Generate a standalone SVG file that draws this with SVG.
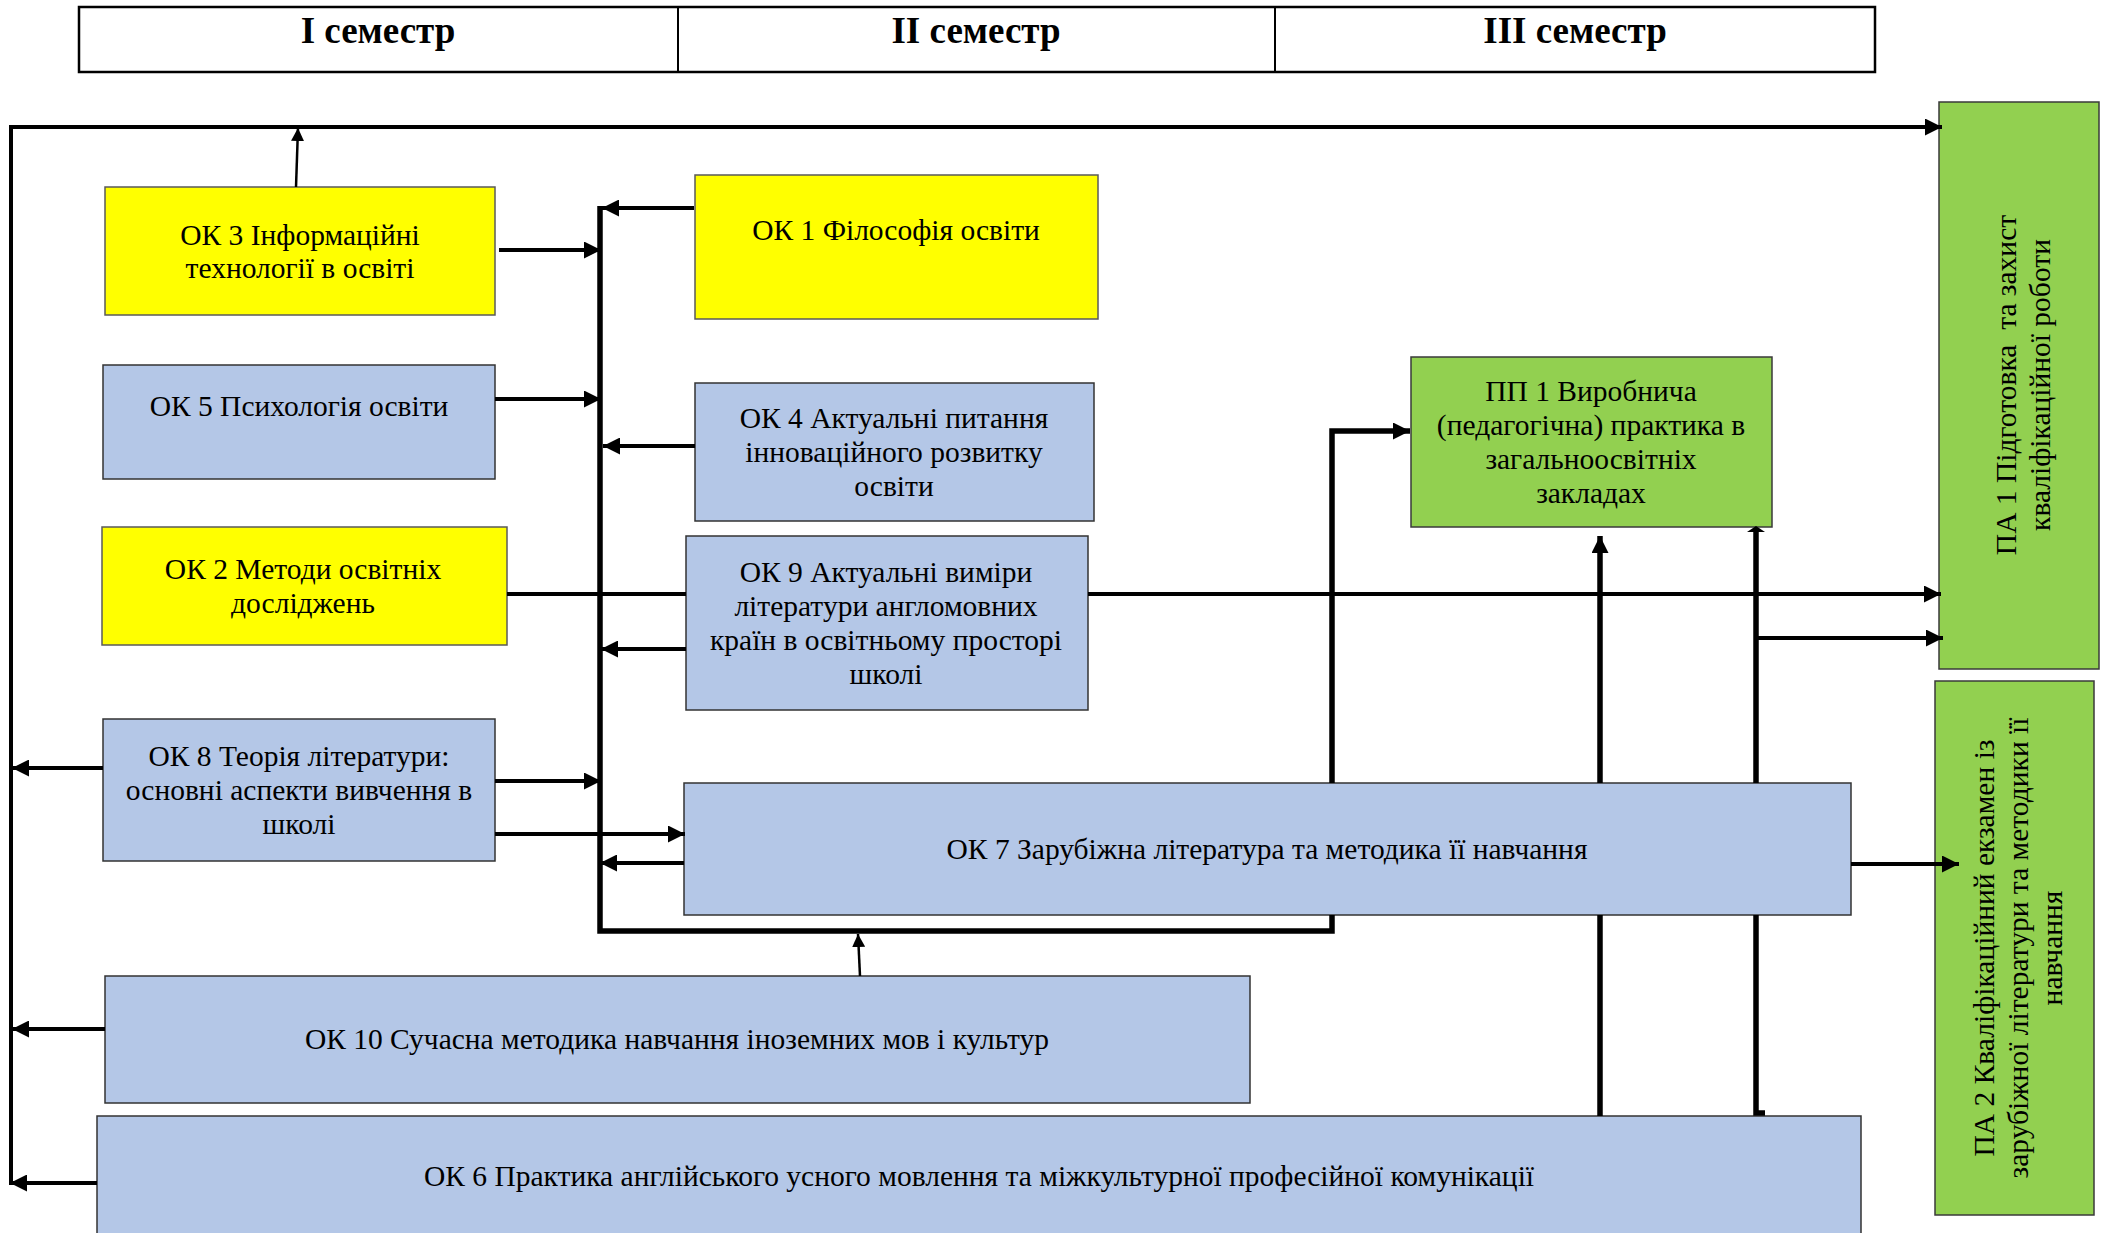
<svg xmlns="http://www.w3.org/2000/svg" width="2105" height="1233" viewBox="0 0 2105 1233">
<style>
  text { font-family: "Liberation Serif", "Times New Roman", serif; font-size: 29.5px; fill: #000; text-anchor: middle; }
  .hdr { font-size: 37px; font-weight: bold; }
  .yel { fill: #FFFF00; stroke: #5a5a5a; stroke-width: 1.5; }
  .blu { fill: #B4C7E7; stroke: #333; stroke-width: 1.5; }
  .grn { fill: #92D050; stroke: #3a3a3a; stroke-width: 1.5; }
  .ln { fill: none; stroke: #000; stroke-width: 4; }
  .thk { fill: none; stroke: #000; stroke-width: 5.5; }
  .thin { fill: none; stroke: #000; stroke-width: 2.5; }
</style>
<defs>
  <marker id="arr" markerUnits="userSpaceOnUse" markerWidth="17" markerHeight="17" refX="17" refY="8.5" orient="auto">
    <path d="M0,0 L17,8.5 L0,17 Z" fill="#000"/>
  </marker>
  <marker id="arrS" markerUnits="userSpaceOnUse" markerWidth="13" markerHeight="13" refX="13" refY="6.5" orient="auto">
    <path d="M0,0 L13,6.5 L0,13 Z" fill="#000"/>
  </marker>
</defs>
<rect x="0" y="0" width="2105" height="1233" fill="#fff"/>

<g id="header">
  <rect x="79" y="7" width="1796" height="65" fill="#fff" stroke="#000" stroke-width="2.5"/>
  <line x1="678" y1="7" x2="678" y2="72" stroke="#000" stroke-width="2"/>
  <line x1="1275" y1="7" x2="1275" y2="72" stroke="#000" stroke-width="2"/>
  <text class="hdr" x="378" y="43">I семестр</text>
  <text class="hdr" x="976" y="43">II семестр</text>
  <text class="hdr" x="1575" y="43">III семестр</text>
</g>

<g id="nodes">
  <g id="ok3">
    <rect class="yel" x="105" y="187" width="390" height="128"/>
    <text x="300" y="245">ОК 3 Інформаційні</text>
    <text x="300" y="278">технології в освіті</text>
  </g>
  <g id="ok1">
    <rect class="yel" x="695" y="175" width="403" height="144"/>
    <text x="896" y="240">ОК 1 Філософія освіти</text>
  </g>
  <g id="ok5">
    <rect class="blu" x="103" y="365" width="392" height="114"/>
    <text x="299" y="416">ОК 5 Психологія освіти</text>
  </g>
  <g id="ok4">
    <rect class="blu" x="695" y="383" width="399" height="138"/>
    <text x="894" y="428">ОК 4 Актуальні питання</text>
    <text x="894" y="462">інноваційного розвитку</text>
    <text x="894" y="496">освіти</text>
  </g>
  <g id="ok2">
    <rect class="yel" x="102" y="527" width="405" height="118"/>
    <text x="303" y="579">ОК 2 Методи освітніх</text>
    <text x="303" y="613">досліджень</text>
  </g>
  <g id="ok9">
    <rect class="blu" x="686" y="536" width="402" height="174"/>
    <text x="886" y="582">ОК 9 Актуальні виміри</text>
    <text x="886" y="616">літератури англомовних</text>
    <text x="886" y="650">країн в освітньому просторі</text>
    <text x="886" y="684">школі</text>
  </g>
  <g id="ok8">
    <rect class="blu" x="103" y="719" width="392" height="142"/>
    <text x="299" y="766">ОК 8 Теорія літератури:</text>
    <text x="299" y="800">основні аспекти вивчення в</text>
    <text x="299" y="834">школі</text>
  </g>
  <g id="ok7">
    <rect class="blu" x="684" y="783" width="1167" height="132"/>
    <text x="1267" y="859">ОК 7 Зарубіжна література та методика її навчання</text>
  </g>
  <g id="ok10">
    <rect class="blu" x="105" y="976" width="1145" height="127"/>
    <text x="677" y="1049">ОК 10 Сучасна методика навчання іноземних мов і культур</text>
  </g>
  <g id="ok6">
    <rect class="blu" x="97" y="1116" width="1764" height="130"/>
    <text x="979" y="1186">ОК 6 Практика англійського усного мовлення та міжкультурної професійної комунікації</text>
  </g>
  <g id="pp1">
    <rect class="grn" x="1411" y="357" width="361" height="170"/>
    <text x="1591" y="401">ПП 1 Виробнича</text>
    <text x="1591" y="435">(педагогічна) практика в</text>
    <text x="1591" y="469">загальноосвітніх</text>
    <text x="1591" y="503">закладах</text>
  </g>
  <g id="pa1">
    <rect class="grn" x="1939" y="102" width="160" height="567"/>
    <text transform="translate(2016,385) rotate(-90)"><tspan x="0" y="0" xml:space="preserve">ПА 1 Підготовка  та захист</tspan><tspan x="0" y="34">кваліфікаційної роботи</tspan></text>
  </g>
  <g id="pa2">
    <rect class="grn" x="1935" y="681" width="159" height="534"/>
    <text transform="translate(1994,948) rotate(-90)"><tspan x="0" y="0">ПА 2 Кваліфікаційний екзамен із</tspan><tspan x="0" y="34">зарубіжної літератури та методики її</tspan><tspan x="0" y="68">навчання</tspan></text>
  </g>
</g>

<g id="connectors">
  <path class="ln" d="M11,1185 V127 H1942" marker-end="url(#arr)"/>
  <path class="thin" d="M296,187 L298,128" marker-end="url(#arrS)"/>
  <path class="thk" d="M600,206 V931 H1332 V915 M1332,783 V431 H1410" marker-end="url(#arr)"/>
  <path class="ln" d="M694,208 H602" marker-end="url(#arr)"/>
  <path class="ln" d="M499,250 H601" marker-end="url(#arr)"/>
  <path class="ln" d="M495,399 H601" marker-end="url(#arr)"/>
  <path class="ln" d="M695,446 H603" marker-end="url(#arr)"/>
  <path class="ln" d="M686,649 H601" marker-end="url(#arr)"/>
  <path class="ln" d="M495,781 H601" marker-end="url(#arr)"/>
  <path class="ln" d="M684,863 H600" marker-end="url(#arr)"/>
  <path class="ln" d="M507,594 H686"/>
  <path class="ln" d="M1088,594 H1941" marker-end="url(#arr)"/>
  <path class="ln" d="M495,834 H685" marker-end="url(#arr)"/>
  <path class="ln" d="M103,768 H12" marker-end="url(#arr)"/>
  <path class="ln" d="M105,1029 H12" marker-end="url(#arr)"/>
  <path class="ln" d="M97,1183 H10" marker-end="url(#arr)"/>
  <path class="thin" d="M860,976 L858,934" marker-end="url(#arrS)"/>
  <path class="ln" d="M1851,864 H1959" marker-end="url(#arr)"/>
  <path class="thk" d="M1600,1116 V915 M1600,783 V536" marker-end="url(#arr)"/>
  <path class="thk" d="M1765,1113 H1756 V915 M1756,783 V529"/>
  <path d="M1747,532 L1765,532 L1756,526 Z" fill="#000"/>
  <path class="ln" d="M1756,638 H1943" marker-end="url(#arr)"/>
</g>
</svg>
